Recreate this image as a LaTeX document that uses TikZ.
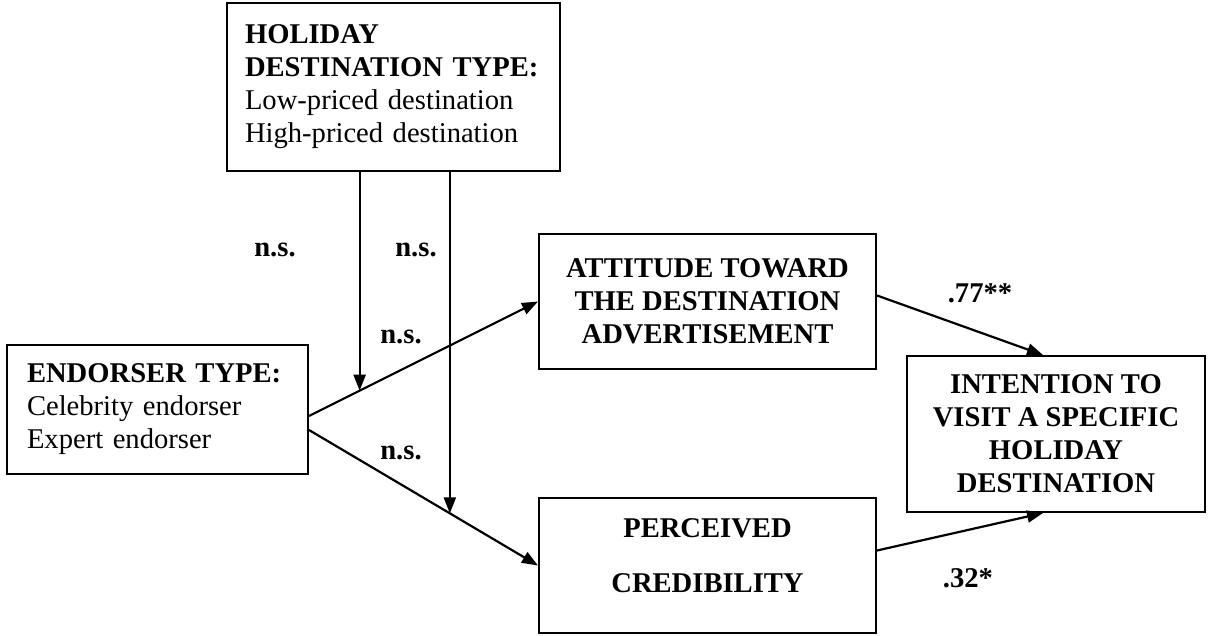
\documentclass[tikz,border=0pt]{standalone}
\usepackage{fontspec}
\setmainfont{Liberation Serif}
\usetikzlibrary{arrows.meta}

\begin{document}
\begin{tikzpicture}[
  x=0.5pt, y=-0.5pt,
  every node/.style={font=\fontsize{14.3pt}{16.5pt}\selectfont},
  factor/.style={draw, line width=1pt, align=left, inner ysep=0pt},
  construct/.style={draw, line width=1pt, align=center, inner ysep=0pt,
    font=\fontsize{14.3pt}{16.5pt}\selectfont\bfseries},
  coef/.style={font=\fontsize{14.3pt}{16pt}\selectfont\bfseries},
  path_arrow/.style={line width=1.1pt, -{Triangle[length=8pt,width=6pt]}}
  ]
	\useasboundingbox (0,0) rectangle (1208,636);

	\node[factor, minimum width=166.5pt, minimum height=84pt, text width=148.5pt, inner xsep=9pt] (holiday) at (393.5,87)
		{\textbf{HOLIDAY}\\\textbf{DESTINATION TYPE:}\\Low-priced destination\\High-priced destination};
	\node[factor, minimum width=150.5pt, minimum height=64.5pt, text width=130.5pt, inner xsep=10pt] (endorser) at (157.5,409.5)
		{\textbf{ENDORSER TYPE:}\\Celebrity endorser\\Expert endorser};

	\node[construct, minimum width=168.5pt, minimum height=67.5pt] (attitude) at (707.5,301.5)
		{ATTITUDE TOWARD\\THE DESTINATION\\ADVERTISEMENT};
	\node[construct, minimum width=168.5pt, minimum height=67.5pt] (credibility) at (707.5,565.5)
		{PERCEIVED\\[11pt]CREDIBILITY\\[-6.5pt]\mbox{}};
	\node[construct, minimum width=149pt, minimum height=78pt] (intention) at (1056,434)
		{INTENTION TO\\VISIT A SPECIFIC\\HOLIDAY\\DESTINATION};

	\draw[path_arrow] ([yshift=-3.25pt]endorser.east) -- coordinate[pos=0.221] (m1) (attitude.west);
	\draw[path_arrow] ([yshift=-10.25pt]endorser.east) -- coordinate[pos=0.615] (m2) (credibility.west);

	\draw[path_arrow] (holiday.south -| m1) -- (m1);
	\draw[path_arrow] (holiday.south -| m2) -- (m2);

	\draw[path_arrow] ([yshift=3pt]attitude.east) -- ([xshift=-6.5pt]intention.north);
	\draw[path_arrow] ([yshift=7.5pt]credibility.east) -- ([xshift=-6.5pt]intention.south);

	\node[coef] (ns1) at (275,250) {n.s.};
	\node[coef] (ns2) at (416,250) {n.s.};
	\node[coef] (ns3) at (401,337) {n.s.};
	\node[coef] (ns4) at (401,453) {n.s.};
	\node[coef] (b1) at (980,293) {.77**};
	\node[coef] (b2) at (968,578) {.32*};
\end{tikzpicture}
\end{document}
